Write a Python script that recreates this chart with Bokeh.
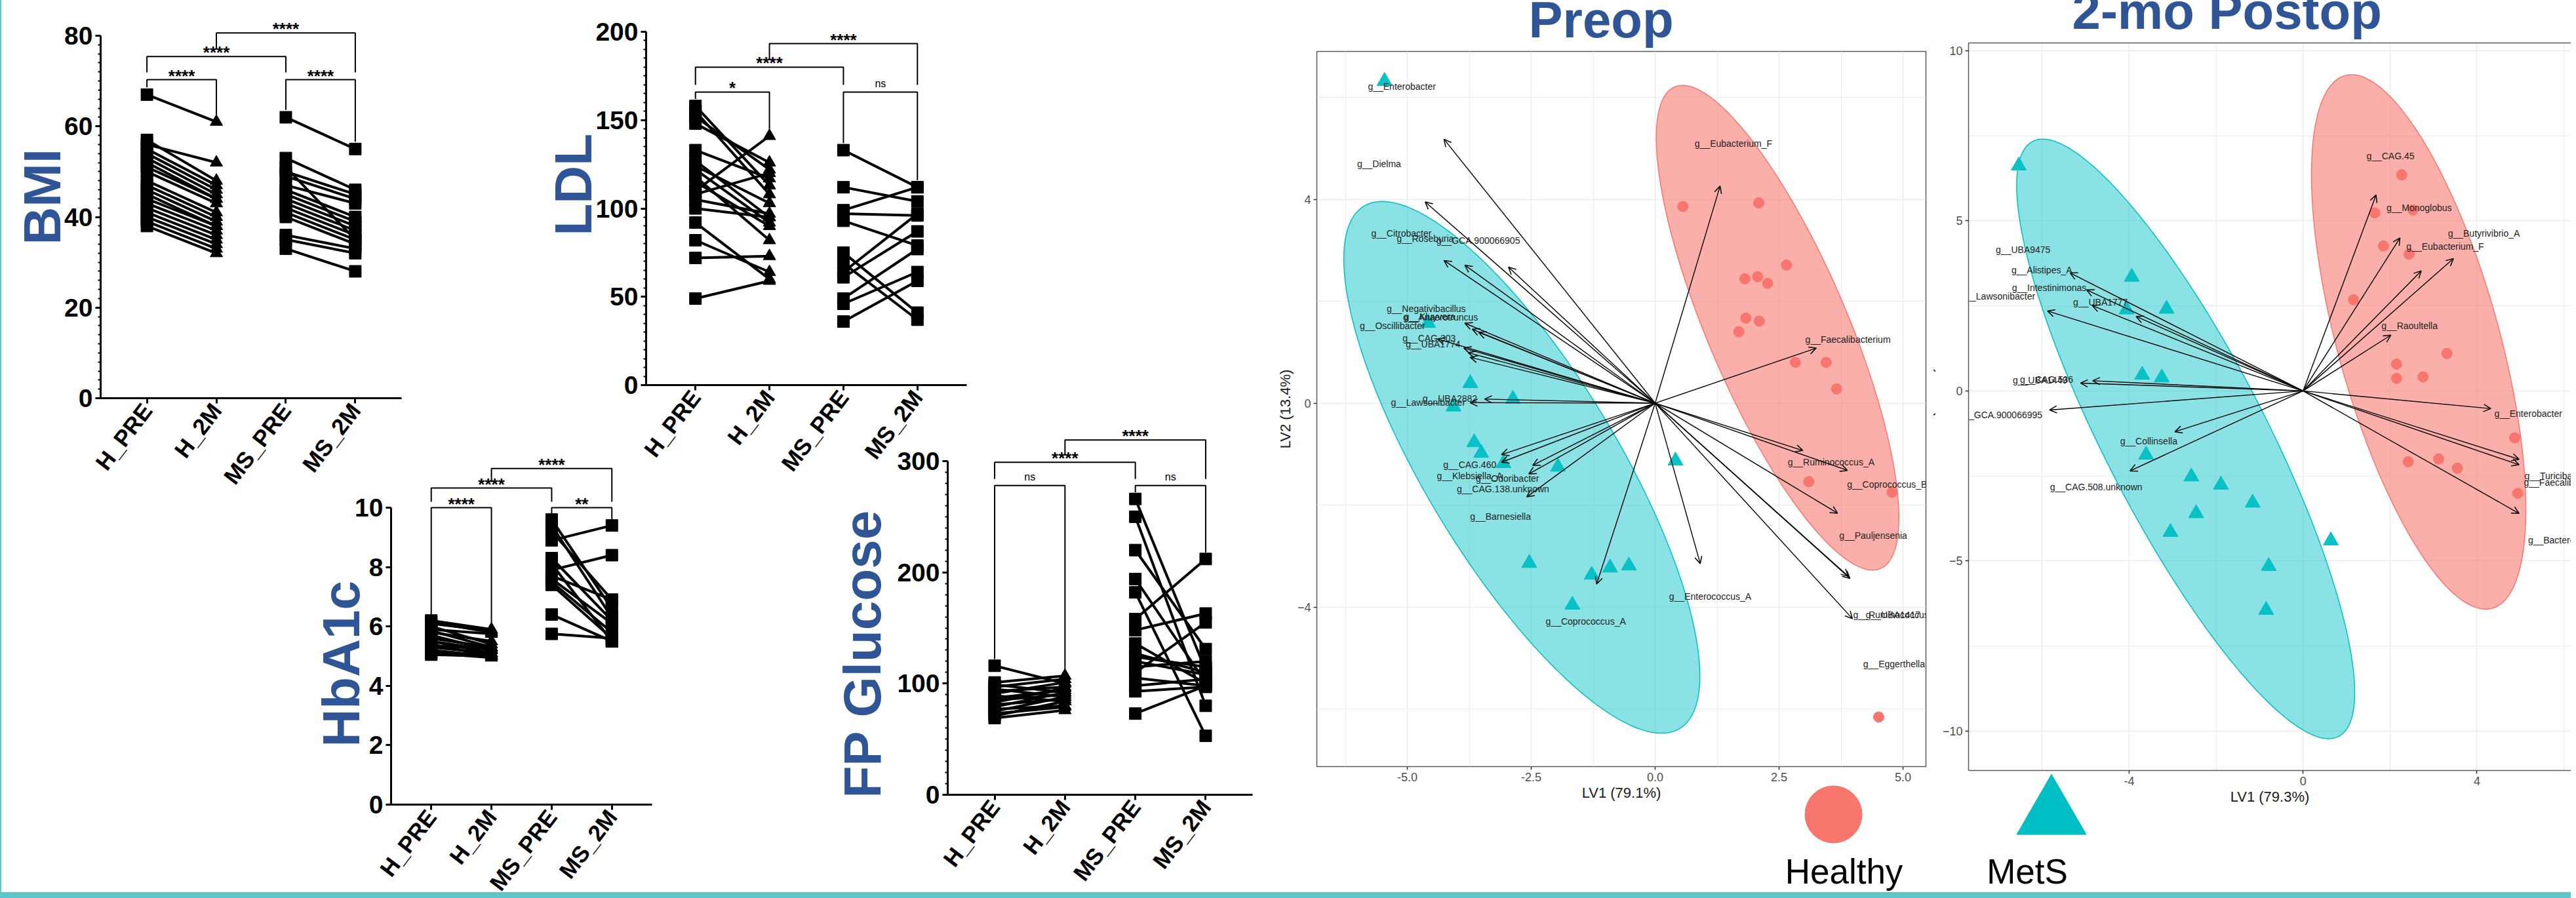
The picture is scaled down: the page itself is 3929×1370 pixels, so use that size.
import math
import numpy as np
from bokeh.plotting import figure
from bokeh.models import (Range1d, FixedTicker, SingleIntervalTicker, Title, ColumnDataSource,
                          Arrow, OpenHead, LinearAxis, Column)
from bokeh.core.properties import value
from bokeh.embed import file_html
from bokeh.resources import INLINE

FONT = "Liberation Sans"
BLUE = "#2F5597"
RED = "#F8766D"
TEAL = "#00BFC4"
GREY = "#5A5A5A"

groups = ["H_PRE", "H_2M", "MS_PRE", "MS_2M"]

# ---------------- paired clinical data ----------------
bmi_h_pre = [67, 57, 56, 55, 54, 53, 52, 51, 50, 48, 47, 46, 45, 44, 43, 42, 41, 40, 39, 38]
bmi_h_2m = [61, 48, 52, 47, 46, 45, 44, 44, 43, 41, 40, 39, 38, 38, 37, 36, 35, 34, 33, 32]
bmi_ms_pre = [62, 53, 51, 50, 49, 47, 46, 45, 44, 43, 42, 41, 40, 36, 35, 33]
bmi_ms_2m = [55, 46, 35, 45, 44, 43, 40, 39, 38, 37, 36, 35, 34, 33, 32, 28]

ldl_h_pre = [158, 155, 152, 148, 133, 127, 124, 122, 118, 115, 110, 108, 105, 100, 92, 82, 72, 49]
ldl_h_2m = [113, 108, 122, 126, 117, 95, 103, 92, 82, 90, 141, 120, 97, 95, 60, 64, 73, 59]
ldl_ms_pre = [133, 112, 99, 97, 93, 75, 69, 64, 61, 49, 46, 36]
ldl_ms_2m = [112, 104, 112, 96, 79, 41, 37, 97, 87, 77, 64, 59]

a1c_h_pre = [6.2, 6.15, 6.1, 6.0, 5.9, 5.85, 5.8, 5.7, 5.6, 5.5, 5.5, 5.4, 5.35, 5.3, 5.2, 5.1, 5.1, 5.05]
a1c_h_2m = [5.9, 5.8, 5.85, 5.4, 5.75, 5.3, 5.5, 5.2, 5.3, 5.1, 5.2, 5.0, 5.25, 5.1, 5.0, 4.95, 5.05, 5.0]
a1c_ms_pre = [9.6, 9.4, 9.2, 8.9, 8.3, 8.1, 7.9, 7.7, 7.6, 7.5, 7.4, 6.4, 5.75]
a1c_ms_2m = [6.6, 6.3, 6.9, 9.4, 6.2, 5.5, 8.4, 6.9, 6.1, 5.8, 5.6, 5.5, 5.6]

glu_h_pre = [116, 101, 99, 97, 95, 93, 91, 89, 87, 85, 83, 81, 79, 77, 75, 73, 71, 69]
glu_h_2m = [100, 107, 92, 104, 88, 97, 101, 84, 94, 90, 96, 86, 92, 80, 88, 79, 84, 76]
glu_ms_pre = [266, 250, 220, 194, 182, 158, 148, 136, 127, 124, 120, 115, 110, 105, 98, 93, 73]
glu_ms_2m = [112, 80, 131, 101, 53, 212, 163, 100, 110, 115, 108, 120, 155, 98, 104, 97, 98]

# (group i, group j, bracket level, significance)
bmi_brackets = [(1, 2, 70.3, "****"), (3, 4, 70.3, "****"), (1, 3, 75.4, "****"), (2, 4, 80.6, "****")]
ldl_brackets = [(1, 2, 165.9, "*"), (3, 4, 165.9, "ns"), (1, 3, 180.0, "****"), (2, 4, 193.3, "****")]
a1c_brackets = [(1, 2, 10.0, "****"), (3, 4, 10.0, "**"), (1, 3, 10.66, "****"), (2, 4, 11.32, "****")]
glu_brackets = [(1, 2, 278, "ns"), (3, 4, 278, "ns"), (1, 3, 299, "****"), (2, 4, 319, "****")]

# ---------------- PLS-DA biplots ----------------
pre_healthy_x = [0.56, 2.09, 2.65, 1.81, 2.07, 2.27, 1.83, 2.10, 1.69, 2.83, 3.45, 3.66, 3.10, 4.78, 4.51]
pre_healthy_y = [3.86, 3.93, 2.71, 2.44, 2.48, 2.35, 1.67, 1.61, 1.40, 0.80, 0.80, 0.28, -1.54, -1.75, -6.16]
pre_mets_x = [-5.46, -4.58, -3.73, -2.87, -4.07, -3.65, -3.51, -3.06, -1.96, 0.41, -2.54, -1.28, -0.91, -0.53, -1.67]
pre_mets_y = [6.32, 1.57, 0.39, 0.08, -0.07, -0.77, -0.98, -1.18, -1.25, -1.13, -3.14, -3.37, -3.23, -3.19, -3.96]
pre_arrow_x = [-4.26, -4.64, -4.26, -3.84, -2.96, -3.84, -3.69, -3.56, -4.39, -3.86, -3.77, -3.73, -3.44, -3.73,
               1.31, 3.25, 2.98, -3.10, -3.10, -2.47, -2.55, -2.59, -1.18, 0.91, 3.88, 3.68, 3.90, 3.93, 3.98]
pre_arrow_y = [5.18, 3.95, 2.80, 2.71, 2.67, 1.57, 1.45, 1.39, 1.26, 1.08, 0.99, 0.90, 0.08, 0.01,
               4.26, 1.08, -0.93, -1.01, -1.16, -1.22, -1.39, -1.84, -3.55, -3.15, -1.32, -2.16, -3.40, -3.44, -4.23]
pre_labels = ["g__Enterobacter", "g__Dielma", "g__Eubacterium_F", "g__Citrobacter", "g__Roseburia",
              "g__GCA.900066905", "g__Negativibacillus", "g__Kluyvera", "g__Anaerotruncus", "g__Oscillibacter",
              "g__CAG.303", "g__UBA1774", "g__Lawsonibacter", "g__UBA2882", "g__Faecalibacterium",
              "g__CAG.460", "g__Klebsiella_A", "g__Odoribacter", "g__CAG.138.unknown", "g__Barnesiella",
              "g__Coprococcus_A", "g__Enterococcus_A", "g__Ruminococcus_A", "g__Coprococcus_B",
              "g__Pauljensenia", "g__Ruminococcus_B", "g__UBA1417", "g__Eggerthella"]
pre_label_x = [-5.11, -5.57, 1.58, -5.12, -4.64, -3.57, -4.62, -4.55, -4.33, -5.30, -4.56, -4.48, -4.58, -4.14,
               3.89, -3.74, -3.74, -2.98, -3.07, -3.12, -1.40, 1.11, 3.55, 4.68, 4.40, 4.87, 4.80, 4.82]
pre_label_y = [6.21, 4.70, 5.10, 3.33, 3.23, 3.19, 1.85, 1.70, 1.68, 1.52, 1.27, 1.16, 0.01, 0.09,
               1.25, -1.21, -1.43, -1.48, -1.69, -2.22, -4.28, -3.80, -1.16, -1.60, -2.60, -4.16, -4.16, -5.12]
# ellipse: centre and shape matrix (LV1, LV2)
pre_ell_healthy = ((2.47, 1.48), [[5.99, -9.12], [-9.12, 22.62]])
pre_ell_mets = ((-2.69, -1.26), [[12.90, -14.70], [-14.70, 27.23]])

post_healthy_x = [2.27, 1.65, 2.53, 1.85, 2.44, 1.16, 3.31, 2.15, 2.15, 2.76, 4.87, 2.42, 3.12, 3.55, 4.94]
post_healthy_y = [6.35, 5.23, 5.32, 4.26, 4.02, 2.68, 1.10, 0.79, 0.37, 0.41, -1.38, -2.08, -2.00, -2.27, -3.01]
post_mets_x = [-6.54, -3.94, -3.14, -4.06, -3.70, -3.25, -3.61, -2.57, -1.89, -1.16, -2.46, -3.05, 0.64, -0.79, -0.85]
post_mets_y = [6.62, 3.35, 2.41, 2.39, 0.47, 0.39, -1.88, -2.52, -2.76, -3.29, -3.60, -4.15, -4.40, -5.15, -6.44]
post_arrow_x = [1.68, 2.23, 2.72, 3.46, 2.02, 4.32, -5.36, -4.98, -4.85, -3.84, -5.88, -4.84, -5.12, -5.83,
                -2.95, -3.98, 4.97, 4.97, 4.97]
post_arrow_y = [5.76, 4.50, 3.53, 3.89, 1.64, -0.52, 3.47, 2.97, 2.51, 2.19, 2.35, 0.30, 0.23, -0.56,
                -1.20, -2.35, -2.01, -2.17, -3.60]
post_labels = ["g__CAG.45", "g__Monoglobus", "g__Butyrivibrio_A", "g__Eubacterium_F", "g__UBA9475",
               "g__Alistipes_A", "g__Intestinimonas", "g__Lawsonibacter", "g__UBA1777", "g__Raoultella",
               "g__CAG.536", "g__UBA1449", "g__GCA.900066995", "g__Enterobacter", "g__Collinsella",
               "g__CAG.508.unknown", "g__Turicibacter", "g__Faecalibacterium", "g__Bacteroides"]
post_label_x = [2.01, 2.67, 4.16, 3.27, -6.44, -6.01, -5.84, -7.02, -4.66, 2.45, -5.90, -6.05, -6.96, 5.18,
                -3.55, -4.76, 5.82, 6.06, 5.91]
post_label_y = [6.90, 5.39, 4.64, 4.24, 4.14, 3.55, 3.04, 2.78, 2.60, 1.92, 0.33, 0.32, -0.71, -0.66,
                -1.48, -2.83, -2.49, -2.68, -4.39]
post_ell_healthy = ((2.66, 1.44), [[6.08, -12.12], [-12.12, 61.68]])
post_ell_mets = ((-2.70, -1.41), [[15.12, -28.98], [-28.98, 77.63]])

legend_labels = ["Healthy", "MetS"]
legend_markers = ["circle", "triangle"]
legend_colors = [RED, TEAL]

# ---------------- helpers ----------------
placed = []  # (figure, left, top, width, height) in page pixels


def make_fig(box, frame, x_range, y_range, **kw):
    x, y, w, h = box
    fl, ft, fr, fb = frame
    p = figure(width=w, height=h, x_range=x_range, y_range=y_range, output_backend="svg",
               toolbar_location=None, title=None,
               min_border_left=fl - x, min_border_right=x + w - fr,
               min_border_top=ft - y, min_border_bottom=y + h - fb, **kw)
    try:
        p.frame_align = False
    except Exception:
        pass
    placed.append((p, x, y, w, h))
    return p


def prism_panel(name, h_pre, h_post, m_pre, m_post, brackets, ymax, interval, n_minor,
                box, frame, y_px_max, title_bottom, title_standoff, label_angle=0.92):
    fl, ft, fr, fb = frame
    scale = (fb - y_px_max) / ymax
    yend = (fb - ft) / scale
    p = make_fig(box, frame, Range1d(1 / 3, 14 / 3), Range1d(0, yend))
    p.outline_line_color = None
    p.background_fill_color = None
    p.border_fill_color = None
    p.xgrid.visible = False
    p.ygrid.visible = False

    xs = [[1, 2] for _ in h_pre] + [[3, 4] for _ in m_pre]
    ys = [[a, b] for a, b in zip(h_pre, h_post)] + [[a, b] for a, b in zip(m_pre, m_post)]
    p.multi_line(xs, ys, line_color="black", line_width=4)
    p.scatter([1] * len(h_pre), h_pre, marker="square", size=18, color="black")
    p.scatter([2] * len(h_post), h_post, marker="triangle", size=19, color="black")
    p.scatter([3] * len(m_pre), m_pre, marker="square", size=18, color="black")
    p.scatter([4] * len(m_post), m_post, marker="square", size=18, color="black")

    tops = {1: max(h_pre), 2: max(h_post), 3: max(m_pre), 4: max(m_post)}
    gap = 0.02 * ymax

    def leg_bottom(c, lev):
        lower = [b[2] for b in brackets if b[2] < lev and min(b[0], b[1]) <= c <= max(b[0], b[1])]
        return (max(lower) if lower else tops[c]) + gap

    bx, by, sx, sy, st, nx, ny, nt = [], [], [], [], [], [], [], []
    for i, j, lev, lab in brackets:
        bx.append([i, i, j, j])
        by.append([leg_bottom(i, lev), lev, lev, leg_bottom(j, lev)])
        if lab == "ns":
            nx.append((i + j) / 2); ny.append(lev); nt.append(lab)
        else:
            sx.append((i + j) / 2); sy.append(lev); st.append(lab)
    p.multi_line(bx, by, line_color="black", line_width=2)
    if st:
        p.text(sx, sy, text=st, text_font=value(FONT), text_font_size="26px", text_font_style="bold",
               text_align="center", text_baseline="middle", y_offset=-6, text_color="black")
    if nt:
        p.text(nx, ny, text=nt, text_font=value(FONT), text_font_size="16px",
               text_align="center", text_baseline="middle", y_offset=-13, text_color="black")

    xa = p.xaxis[0]
    xa.ticker = FixedTicker(ticks=[1, 2, 3, 4])
    xa.major_label_overrides = {i + 1: g for i, g in enumerate(groups)}
    xa.major_label_orientation = label_angle
    xa.minor_tick_line_color = None
    ya = p.yaxis[0]
    ya.ticker = SingleIntervalTicker(interval=interval, num_minor_ticks=n_minor)
    ya.bounds = (0, ymax)
    if n_minor == 0:
        ya.minor_tick_line_color = None
    for ax in (xa, ya):
        ax.axis_line_width = 3
        ax.major_tick_line_width = 3
        ax.major_tick_in = 0
        ax.major_tick_out = 8
        ax.minor_tick_in = 0
        ax.minor_tick_out = 4
        ax.minor_tick_line_width = 2
        ax.major_label_text_font = FONT
        ax.major_label_text_font_style = "bold"
        ax.major_label_text_color = "black"
    xa.major_label_text_font_size = "35px"
    xa.major_label_standoff = 4
    ya.major_label_text_font_size = "39px"
    ya.major_label_standoff = 4

    t = Title(text=name, align="left", offset=fb - title_bottom, text_font=FONT, text_font_size="80px",
              text_font_style="bold", text_color=BLUE, standoff=title_standoff)
    p.add_layout(t, "left")
    return p


def lin_range(v1, p1, v2, p2, pa, pb):
    s = (p2 - p1) / (v2 - v1)
    return Range1d(v1 + (pa - p1) / s, v1 + (pb - p1) / s)


def ellipse_xy(ell, n=240):
    c, m = ell
    L = np.linalg.cholesky(np.array(m))
    t = np.linspace(0, 2 * np.pi, n)
    pts = L @ np.vstack([np.cos(t), np.sin(t)])
    return list(c[0] + pts[0]), list(c[1] + pts[1])


def pls_panel(title, title_left, box, frame, xcal, ycal, xticks, xminor, yticks, yminor, xfmt,
              xlabel, ylabel, hx, hy, mx, my, ell_h, ell_m, ax_, ay_, labs, lx, ly, postop):
    fl, ft, fr, fb = frame
    xr = lin_range(xcal[0], xcal[1], xcal[2], xcal[3], fl, fr)
    yr = lin_range(ycal[0], ycal[1], ycal[2], ycal[3], fb, ft)
    p = make_fig(box, frame, xr, yr)
    p.background_fill_color = "white"
    p.border_fill_color = None if postop else "white"
    if postop:
        p.outline_line_color = None
    else:
        p.outline_line_color = GREY
        p.outline_line_width = 1.5

    xa = p.xaxis[0]
    ya = p.yaxis[0]
    xa.ticker = FixedTicker(ticks=xticks, minor_ticks=xminor)
    ya.ticker = FixedTicker(ticks=yticks, minor_ticks=yminor)
    xa.major_label_overrides = {t: f for t, f in zip(xticks, xfmt)}
    for ax in (xa, ya):
        ax.axis_line_color = GREY if postop else None
        ax.axis_line_width = 1.5
        ax.major_tick_line_color = "#333333"
        ax.major_tick_line_width = 1.5
        ax.major_tick_in = 0
        ax.major_tick_out = 5
        ax.minor_tick_line_color = None
        ax.major_label_text_font = FONT
        ax.major_label_text_font_size = "18px"
        ax.major_label_text_color = "#4D4D4D"
        ax.major_label_standoff = 4
        ax.axis_label_text_font = FONT
        ax.axis_label_text_font_size = "22px"
        ax.axis_label_text_font_style = "normal"
        ax.axis_label_text_color = "#1A1A1A"
    xa.axis_label = xlabel
    ya.axis_label = ylabel
    xa.axis_label_standoff = 2
    ya.axis_label_standoff = 8 if postop else 3
    for g in (p.xgrid[0], p.ygrid[0]):
        g.grid_line_color = "#EBEBEB"
        g.grid_line_width = 1.5
        g.minor_grid_line_color = "#EBEBEB"
        g.minor_grid_line_width = 1.2

    ehx, ehy = ellipse_xy(ell_h)
    emx, emy = ellipse_xy(ell_m)
    p.patch(emx, emy, fill_color=TEAL, fill_alpha=0.46, line_color=TEAL, line_width=1.5)
    p.patch(ehx, ehy, fill_color=RED, fill_alpha=0.58, line_color=RED, line_width=1.5)
    p.scatter(hx, hy, marker="circle", size=16, color=RED)
    p.scatter(mx, my, marker="triangle", size=23, color=TEAL, fill_alpha=0.95)
    p.text(lx, ly, text=labs, text_font=value(FONT), text_font_size="14px", text_align="center",
           text_baseline="middle", text_color="#222222")
    src = ColumnDataSource(dict(x0=[0.0] * len(ax_), y0=[0.0] * len(ay_), x1=ax_, y1=ay_))
    p.add_layout(Arrow(end=OpenHead(size=11, line_width=1.5, line_color="black"), source=src,
                       x_start="x0", y_start="y0", x_end="x1", y_end="y1",
                       line_color="black", line_width=1.4))
    if postop:
        top_axis = LinearAxis(ticker=FixedTicker(ticks=[]), axis_line_color=GREY, axis_line_width=1.5,
                              major_tick_line_color=None, minor_tick_line_color=None,
                              major_label_text_font_size="0px")
        p.add_layout(top_axis, "above")
    t = Title(text=title, align="left", offset=title_left - fl, text_font=FONT, text_font_size="78px",
              text_font_style="bold", text_color=BLUE, standoff=10)
    p.add_layout(t, "above")
    return p


# ---------------- build panels ----------------
prism_panel("BMI", bmi_h_pre, bmi_h_2m, bmi_ms_pre, bmi_ms_2m, bmi_brackets, 80, 20, 10,
            box=(0, 0, 632, 810), frame=(161, 0, 620, 607), y_px_max=54, title_bottom=373,
            title_standoff=-26)
prism_panel("LDL", ldl_h_pre, ldl_h_2m, ldl_ms_pre, ldl_ms_2m, ldl_brackets, 200, 50, 10,
            box=(793, 0, 701, 790), frame=(993, 0, 1482, 587), y_px_max=48, title_bottom=359,
            title_standoff=-26)
prism_panel("HbA1c", a1c_h_pre, a1c_h_2m, a1c_ms_pre, a1c_ms_2m, a1c_brackets, 10, 2, 0,
            box=(414, 690, 600, 740), frame=(604, 690, 1002, 1227), y_px_max=774, title_bottom=1139,
            title_standoff=-52)
prism_panel("FP Glucose", glu_h_pre, glu_h_2m, glu_ms_pre, glu_ms_2m, glu_brackets, 300, 100, 10,
            box=(1220, 650, 710, 765), frame=(1453, 650, 1918, 1212), y_px_max=703, title_bottom=1217,
            title_standoff=12)

pls_panel("2-mo Postop", 3168, box=(2925, -75, 1004, 1315), frame=(3010, 65, 3929, 1175),
          xcal=(-4, 3255, 4, 3785.4), ycal=(10, 76.8, -10, 1115),
          xticks=[-4, 0, 4], xminor=[-6, -2, 2, 6], yticks=[-10, -5, 0, 5, 10], yminor=[-7.5, -2.5, 2.5, 7.5],
          xfmt=["-4", "0", "4"], xlabel="LV1 (79.3%)", ylabel="LV2 (10.9%)",
          hx=post_healthy_x, hy=post_healthy_y, mx=post_mets_x, my=post_mets_y,
          ell_h=post_ell_healthy, ell_m=post_ell_mets, ax_=post_arrow_x, ay_=post_arrow_y,
          labs=post_labels, lx=post_label_x, ly=post_label_y, postop=True)

pls_panel("Preop", 2339, box=(1936, -62, 1021, 1301), frame=(2016, 78, 2945, 1169),
          xcal=(-5, 2154, 5, 2910), ycal=(4, 303.6, -4, 925.5),
          xticks=[-5, -2.5, 0, 2.5, 5], xminor=[-6.25, -3.75, -1.25, 1.25, 3.75],
          yticks=[-4, 0, 4], yminor=[-6, -2, 2, 6],
          xfmt=["-5.0", "-2.5", "0.0", "2.5", "5.0"], xlabel="LV1 (79.1%)", ylabel="LV2 (13.4%)",
          hx=pre_healthy_x, hy=pre_healthy_y, mx=pre_mets_x, my=pre_mets_y,
          ell_h=pre_ell_healthy, ell_m=pre_ell_mets, ax_=pre_arrow_x, ay_=pre_arrow_y,
          labs=pre_labels, lx=pre_label_x, ly=pre_label_y, postop=False)

# legend (group symbols)
lg = make_fig((2700, 1180, 560, 182), (2700, 1180, 3260, 1362),
              Range1d(-0.3128, 1.3714), Range1d(-0.154, 1.596), x_axis_type=None, y_axis_type=None)
lg.outline_line_color = None
lg.background_fill_color = None
lg.border_fill_color = None
lg.xgrid.visible = False
lg.ygrid.visible = False
lsrc = ColumnDataSource(dict(x=[0, 1], y=[1, 1], marker=legend_markers, color=legend_colors,
                             size=[87, 106], label=legend_labels, ty=[0, 0], dx=[16, -37]))
lg.scatter(x="x", y="y", marker="marker", size="size", color="color", source=lsrc)
lg.text(x="x", y="ty", text="label", x_offset="dx", y_offset=-17, source=lsrc, text_font=value(FONT),
        text_font_size="53px", text_align="center", text_baseline="middle", text_color="black")

# ---------------- page layout ----------------
children = []
prev_bottom = 0
for p, x, y, w, h in placed:
    p.margin = (y - prev_bottom, 0, 0, x)
    prev_bottom = y + h
    children.append(p)

root = Column(children=children, width=3929, height=1370, margin=(0, 0, 0, -8),
              styles={"background-color": "white", "overflow": "hidden",
                      "box-shadow": "inset 10px -9px 0 0 #5CC6C9"})

open("out.html", "w").write(file_html(root, INLINE))
